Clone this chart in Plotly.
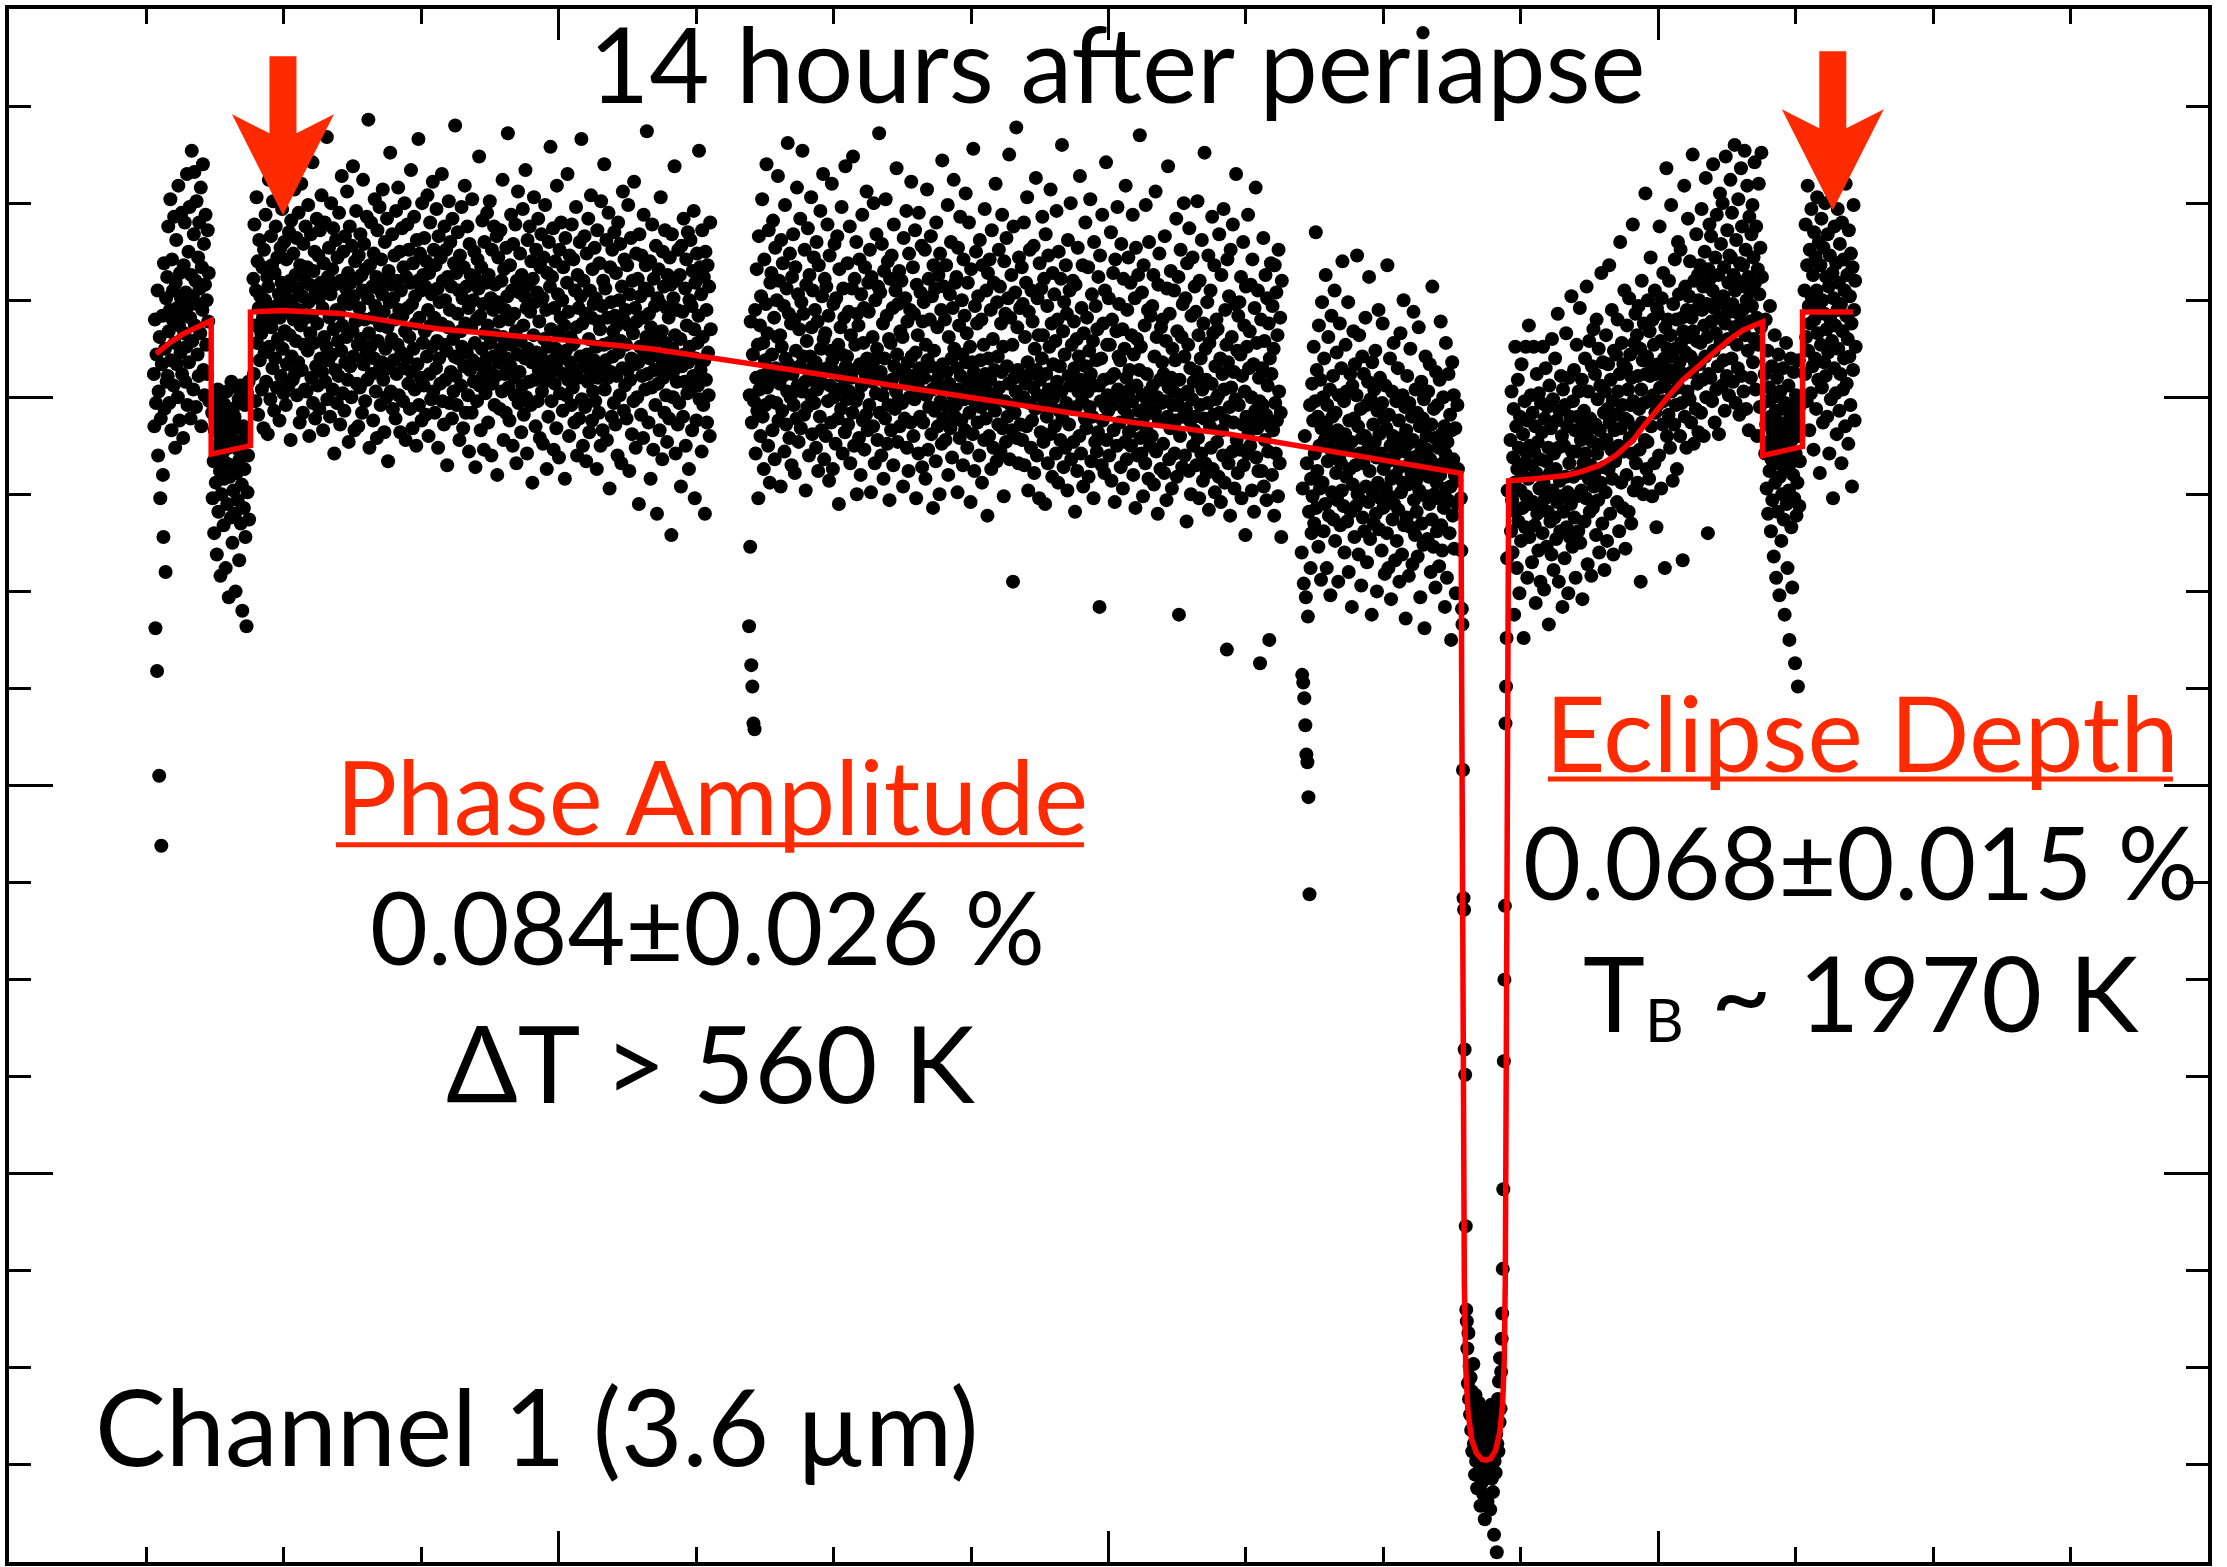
import numpy as np
import plotly.graph_objects as go

# ---------------- data (time in hours, flux in units of 1e-5, offset) ----------------
# time span (start, end) of each regularly sampled block
SPAN_A = (2.108, 2.915)
SPAN_B = (2.956, 3.494)
SPAN_C = (3.556, 10.212)
SPAN_D = (10.770, 18.522)
SPAN_E = (18.811, 21.085)
SPAN_T = (21.127, 21.809)
SPAN_F = (21.850, 25.509)
SPAN_G = (25.550, 26.067)
SPAN_H = (26.129, 26.873)

FLUX_A = [612, 585, 640, 481, 597, 622, 459, 655, 570, 603, 405, 631, 548, 589, 369, 617, 642, 560, 528, 669, 594, 625, 510, 651, 608,
          662, 611, 688, 634, 597, 645, 702, 619, 583, 671, 640, 655, 606, 693, 628, 574, 659, 681, 617, 646,
          600, 709, 637, 588, 664, 623, 651, 695, 612, 642, 579, 668, 633, 690, 608, 654, 626, 715, 596, 647,
          675, 618, 698, 641, 589, 663, 727, 629, 652, 604, 684, 716, 637, 660, 595, 701, 648, 622, 672, 611,
          690, 656, 633, 708, 585, 667, 645, 720, 614, 679, 601, 658, 694, 627, 650, 612, 686, 639, 664, 598]

FLUX_B = [592, 548, 598, 567, 530, 583, 589, 556, 598, 519, 575, 604, 541, 587, 601, 562, 508, 579, 550, 593,
          571, 597, 534, 558, 596, 585, 512, 566, 603, 545, 589, 574, 497, 594, 559, 581, 538, 608, 565, 525,
          594, 552, 578, 590, 540, 500, 586, 561, 605, 547, 573, 599, 516, 568, 606, 535, 584, 555, 490, 577,
          585, 543, 563, 596, 528, 580, 482, 602, 551, 570, 608, 537]

FLUX_C = [661, 612, 689, 637, 598, 655, 703, 628, 670, 591, 646, 681, 619, 652, 725, 633, 604, 667, 641, 584,
          676, 623, 650, 694, 608, 639, 662, 581, 657, 712, 626, 645, 599, 683, 636, 668, 615, 701, 642, 593,
          664, 620, 688, 647, 605, 672, 630, 719, 653, 588, 641, 677, 611, 659, 697, 625, 649, 602, 680, 634,
          655, 596, 671, 617, 738, 644, 606, 685, 632, 660, 578, 691, 621, 650, 609, 674, 640, 707, 612, 663,
          629, 682, 601, 656, 618, 695, 645, 587, 668, 637, 710, 614, 652, 592, 679, 627, 661, 604, 688, 641,
          603, 667, 624, 699, 649, 580, 658, 633, 684, 610, 642, 721, 597, 665, 628, 675, 589, 654, 616, 692,
          638, 606, 673, 651, 594, 686, 620, 659, 704, 613, 646, 583, 669, 631, 690, 608, 656, 626, 734, 599,
          662, 619, 677, 641, 590, 653, 700, 622, 666, 604, 687, 635, 571, 658, 614, 681, 645, 597, 672, 629,
          611, 695, 643, 586, 660, 624, 714, 637, 602, 675, 650, 593, 683, 618, 656, 631, 706, 609, 664, 577,
          648, 688, 616, 659, 600, 678, 634, 719, 621, 652, 583, 670, 639, 696, 607, 661, 627, 585, 673, 646,
          605, 684, 630, 663, 592, 655, 712, 617, 679, 640, 598, 666, 622, 693, 609, 651, 743, 633, 574, 668,
          626, 690, 612, 657, 641, 588, 674, 620, 702, 647, 603, 662, 579, 686, 629, 656, 614, 698, 637, 596,
          671, 618, 653, 707, 609, 644, 582, 680, 625, 661, 600, 692, 636, 567, 665, 615, 649, 726, 603, 658,
          630, 684, 594, 651, 619, 673, 640, 589, 696, 612, 660, 627, 708, 601, 645, 675, 582, 655, 623, 687,
          642, 598, 667, 615, 700, 634, 578, 662, 620, 689, 646, 607, 676, 631, 594, 659, 717, 613, 648, 584,
          669, 625, 693, 604, 652, 638, 575, 681, 617, 660, 733, 596, 641, 674, 610, 655, 588, 700, 628, 663,
          606, 682, 634, 657, 591, 670, 621, 704, 645, 580, 664, 612, 690, 637, 599, 653, 626, 711, 603, 676,
          641, 592, 668, 615, 697, 629, 656, 574, 683, 620, 649, 607, 672, 638, 715, 598, 660, 627, 586, 688,
          650, 609, 676, 624, 565, 662, 636, 701, 597, 645, 680, 613, 657, 589, 692, 630, 603, 669, 621, 740,
          611, 664, 596, 643, 685, 620, 655, 578, 673, 634, 606, 698, 626, 651, 584, 667, 616, 709, 638, 592,
          657, 623, 688, 601, 646, 572, 679, 614, 663, 636, 592, 702, 619, 650, 608, 675, 628, 564, 661, 640,
          598, 671, 617, 656, 724, 606, 642, 583, 667, 625, 691, 611, 648, 573, 680, 633, 602, 659, 620, 695,
          637, 587, 663, 614, 701, 628, 651, 570, 676, 607, 645, 621, 688, 596, 658, 632, 611, 683, 560, 649,
          672, 618, 639, 594, 686, 625, 660, 603, 712, 631, 578, 666, 612, 645, 592, 677, 620, 652, 736, 605,
          640, 588, 668, 616, 694, 627, 655, 575, 679, 610, 643, 601, 689, 634, 566, 660, 622, 706, 597, 654,
          613, 674, 629, 582, 663, 606, 697, 637, 591, 652, 620, 717, 600, 646, 571, 681, 625, 658, 608, 688,
          644, 596, 670, 618, 556, 661, 632, 703, 609, 649, 585, 676, 623, 654, 598, 692, 614, 639, 579, 667,
          621, 684, 603, 651, 576, 672, 630, 608, 699, 617, 645, 563, 664, 626, 590, 680, 611, 657, 729, 635,
          598, 662, 619, 687, 573, 646, 607, 670, 625, 584, 709, 614, 653, 633, 569, 676, 602, 641, 690, 620,
          650, 593, 667, 612, 637, 558, 682, 624, 601, 659, 715, 609, 644, 580, 673, 618, 631, 596, 689, 627,
          605, 671, 628, 587, 655, 614, 698, 636, 570, 663, 610, 646, 589, 680, 621, 652, 733, 599, 638, 575,
          660, 616, 683, 595, 643, 567, 674, 622, 608, 692, 630, 582, 655, 613, 704, 641, 588, 666, 603, 648,
          619, 677, 598, 651, 626, 563, 686, 610, 639, 592, 669, 635, 575, 701, 615, 647, 583, 660, 627, 720,
          604, 656, 619, 681, 578, 641, 610, 695, 628, 553, 667, 613, 649, 590, 676, 621, 634, 597, 685, 642,
          586, 664, 611, 637, 570, 690, 623, 650, 601, 679, 629, 566, 657, 615, 706, 640, 593, 671, 606, 645,
          627, 589, 668, 614, 699, 637, 562, 653, 609, 682, 620, 581, 660, 633, 598, 711, 617, 646, 574, 674,
          639, 600, 661, 618, 545, 684, 626, 652, 591, 673, 611, 641, 579, 694, 622, 656, 604, 668, 631, 737,
          612, 655, 587, 643, 620, 670, 558, 636, 605, 689, 626, 573, 661, 614, 647, 596, 678, 630, 540, 651,
          607, 666, 621, 583, 648, 703, 615, 634, 568, 675, 610, 657, 592, 686, 628, 601, 646, 577, 663, 619,
          641, 589, 672, 613, 658, 529, 684, 625, 600, 651, 614, 719, 632, 571, 660, 608, 645, 586, 676, 620,
          597, 663, 630, 554, 678, 616, 644, 590, 692, 622, 608, 656, 575, 671, 637, 602, 685, 618, 563, 650,
          626, 681, 604, 647, 583, 665, 611, 696, 635, 548, 659, 620, 588, 674, 628, 606, 642, 727, 599, 667,
          614, 653, 572, 686, 631, 596, 662, 619, 540, 675, 609, 645, 587, 668, 623, 601, 657, 580, 690, 635]

FLUX_D = [482, 601, 523, 639, 462, 587, 451, 622, 432, 598, 429, 645, 571, 610, 666, 593, 627, 548, 683, 604,
          637, 580, 652, 611, 702, 590, 628, 563, 671, 619, 596, 648, 720, 605, 633, 575, 686, 614, 556, 659,
          598, 664, 622, 583, 691, 609, 641, 568, 677, 615, 597, 650, 631, 714, 588, 660, 607, 632, 554, 681,
          626, 593, 669, 611, 647, 572, 699, 620, 586, 656, 603, 731, 617, 643, 579, 674, 600, 638, 565, 662,
          612, 684, 596, 640, 561, 667, 624, 589, 708, 606, 653, 577, 635, 616, 692, 584, 649, 603, 727, 621,
          643, 591, 676, 608, 552, 658, 629, 595, 687, 614, 570, 663, 621, 601, 703, 636, 581, 655, 609, 672,
          597, 645, 618, 574, 680, 604, 639, 562, 668, 612, 590, 696, 625, 583, 652, 607, 715, 630, 568, 661,
          633, 580, 657, 615, 689, 598, 642, 557, 673, 606, 624, 587, 710, 619, 563, 648, 600, 679, 613, 576,
          651, 604, 683, 589, 627, 545, 666, 611, 636, 594, 698, 622, 571, 656, 605, 641, 582, 719, 616, 599,
          621, 669, 586, 644, 603, 688, 566, 632, 610, 656, 592, 724, 614, 575, 661, 627, 598, 680, 550, 643,
          601, 637, 579, 671, 617, 560, 653, 606, 694, 588, 628, 646, 573, 667, 612, 591, 706, 620, 583, 659,
          644, 596, 676, 615, 551, 662, 608, 631, 585, 700, 619, 566, 650, 602, 684, 625, 578, 657, 610, 736,
          592, 654, 613, 570, 679, 601, 638, 558, 665, 620, 589, 702, 607, 642, 576, 670, 596, 630, 547, 661,
          628, 583, 673, 609, 646, 565, 689, 616, 594, 655, 603, 718, 622, 577, 648, 599, 665, 585, 634, 612,
          660, 597, 631, 554, 682, 614, 589, 651, 607, 696, 574, 639, 618, 562, 674, 600, 645, 587, 711, 621,
          611, 667, 580, 643, 599, 686, 623, 548, 658, 606, 632, 571, 695, 615, 590, 654, 603, 678, 564, 639,
          587, 649, 610, 676, 558, 627, 601, 707, 619, 573, 661, 595, 640, 616, 683, 581, 652, 604, 543, 668,
          624, 593, 656, 567, 690, 609, 636, 585, 663, 612, 550, 674, 598, 645, 576, 722, 617, 589, 657, 605,
          640, 578, 668, 613, 595, 699, 560, 631, 607, 653, 584, 680, 620, 569, 646, 601, 712, 625, 590, 659,
          596, 662, 615, 551, 677, 604, 637, 579, 693, 611, 588, 650, 622, 565, 671, 599, 642, 583, 705, 618,
          633, 574, 659, 608, 690, 592, 626, 546, 666, 603, 618, 581, 728, 613, 562, 647, 597, 675, 609, 638,
          587, 652, 606, 570, 681, 619, 595, 640, 556, 668, 601, 627, 578, 697, 612, 589, 655, 603, 539, 664,
          620, 580, 671, 609, 645, 563, 686, 596, 630, 574, 659, 614, 593, 710, 601, 567, 649, 621, 586, 676,
          605, 657, 572, 638, 613, 694, 584, 626, 549, 670, 598, 643, 577, 682, 616, 590, 651, 607, 725, 568,
          641, 596, 663, 583, 627, 505, 688, 610, 592, 654, 603, 739, 579, 636, 614, 566, 672, 599, 646, 586,
          611, 667, 578, 648, 600, 690, 565, 631, 607, 659, 585, 703, 618, 552, 644, 597, 676, 612, 574, 655,
          588, 639, 605, 678, 561, 625, 594, 713, 614, 570, 651, 601, 632, 548, 669, 609, 582, 656, 620, 693,
          632, 577, 661, 598, 545, 684, 612, 590, 647, 566, 673, 604, 626, 581, 707, 596, 638, 559, 664, 617,
          600, 653, 585, 629, 571, 696, 608, 640, 556, 675, 593, 616, 578, 661, 603, 730, 589, 634, 564, 649,
          622, 574, 668, 597, 643, 552, 681, 611, 586, 655, 606, 700, 568, 627, 594, 660, 577, 639, 615, 541,
          658, 595, 630, 562, 677, 603, 621, 580, 714, 609, 571, 646, 598, 668, 554, 633, 607, 589, 690, 616,
          584, 641, 603, 667, 559, 624, 595, 702, 612, 567, 653, 590, 629, 548, 680, 606, 577, 647, 619, 572,
          635, 582, 662, 606, 492, 673, 598, 620, 565, 694, 588, 638, 609, 561, 655, 595, 721, 578, 627, 601,
          593, 651, 570, 627, 610, 685, 557, 640, 596, 664, 583, 612, 546, 671, 601, 634, 575, 698, 604, 621,
          648, 587, 619, 564, 679, 600, 635, 553, 661, 594, 625, 577, 709, 610, 568, 645, 591, 672, 582, 614,
          604, 659, 575, 632, 598, 694, 560, 622, 586, 651, 543, 677, 606, 630, 570, 663, 593, 614, 735, 579,
          626, 571, 654, 601, 549, 668, 590, 637, 566, 699, 583, 612, 597, 645, 558, 680, 603, 575, 642, 592,
          580, 647, 606, 663, 555, 621, 593, 706, 572, 631, 600, 540, 658, 588, 674, 609, 563, 636, 597, 618,
          640, 576, 612, 561, 683, 598, 629, 547, 656, 590, 719, 605, 568, 643, 584, 665, 610, 553, 625, 596,
          603, 655, 571, 619, 588, 692, 559, 634, 596, 662, 488, 609, 580, 676, 601, 631, 564, 648, 590, 700,
          621, 570, 651, 594, 536, 669, 603, 627, 562, 687, 588, 615, 550, 642, 599, 672, 575, 608, 583, 657,
          590, 644, 565, 613, 701, 579, 632, 548, 660, 596, 620, 571, 681, 604, 557, 638, 589, 726, 566, 625,
          609, 561, 649, 597, 673, 542, 628, 585, 655, 574, 607, 693, 563, 633, 591, 668, 551, 616, 599, 640,
          577, 635, 601, 559, 684, 592, 620, 546, 663, 583, 612, 570, 697, 604, 556, 645, 588, 627, 470, 671,
          618, 566, 652, 595, 539, 676, 605, 631, 572, 689, 587, 613, 553, 648, 599, 715, 578, 624, 561, 642,
          596, 649, 573, 622, 662, 548, 611, 586, 680, 565, 637, 603, 529, 657, 590, 626, 571, 694, 582, 615,
          634, 575, 658, 600, 552, 671, 588, 617, 541, 646, 593, 708, 569, 628, 584, 655, 562, 610, 598, 463,
          587, 640, 562, 615, 596, 682, 554, 629, 578, 663, 591, 547, 651, 606, 572, 638, 475, 620, 585, 669,
          612, 560, 647, 583, 625, 539, 668, 597, 571, 654, 588, 632, 549, 676, 603, 566, 641, 592, 528, 660]

FLUX_E = [520, 457, 553, 453, 504, 445, 580, 431, 497, 416, 566, 412, 487, 394, 541, 344, 596, 512, 558, 530,
          607, 549, 588, 626, 535, 571, 598, 685, 543, 614, 562, 590, 523, 637, 575, 553, 609, 506, 584, 649,
          556, 600, 531, 620, 578, 545, 663, 587, 512, 596, 567, 631, 539, 582, 604, 498, 573, 642, 551, 590,
          611, 537, 579, 655, 526, 592, 561, 623, 547, 583, 505, 601, 570, 638, 534, 566, 615, 552, 670, 575,
          544, 598, 520, 581, 627, 559, 603, 536, 574, 649, 510, 588, 563, 612, 541, 577, 492, 606, 555, 634,
          589, 528, 617, 565, 544, 601, 673, 550, 585, 519, 632, 571, 547, 594, 503, 579, 621, 538, 566, 612,
          531, 580, 641, 554, 596, 515, 573, 608, 546, 662, 562, 527, 599, 575, 488, 618, 551, 586, 535, 604,
          577, 624, 540, 569, 500, 593, 556, 645, 532, 581, 610, 548, 571, 521, 597, 638, 543, 563, 589, 509,
          606, 553, 584, 530, 668, 567, 512, 591, 549, 620, 575, 496, 558, 603, 537, 580, 628, 545, 570, 516,
          560, 598, 526, 574, 615, 542, 588, 505, 564, 633, 551, 579, 519, 601, 556, 650, 534, 572, 595, 486,
          583, 538, 611, 555, 576, 508, 597, 566, 625, 533, 561, 590, 514, 578, 644, 547, 569, 529, 604, 557,
          541, 592, 518, 570, 636, 552, 585, 497, 575, 608, 535, 562, 589, 524, 599, 481, 567, 621, 549, 580,
          573, 527, 603, 559, 545, 617, 568, 510, 586, 537, 657, 564, 523, 594, 550, 579, 502, 613, 556, 531,
          596, 548, 574, 513, 609, 560, 639, 534, 581, 521, 566, 600, 543, 585, 492, 571, 628, 553, 507, 577,
          547, 612, 565, 530, 591, 554, 475, 583, 618, 539, 568, 601, 522, 560, 584, 499, 557, 545, 596, 563]

FLUX_T = [548, 521, 491, 483, 408, 342, 336, 264, 251, 173, 130, 124,
          110, 92, 118, 84, 101, 76, 95, 68, 88, 57, 79, 102, 61, 73, 45, 86, 52, 66, 38, 71,
          58, 82, 47, 63, 29, 55, 74, 41, 60, 35, 69, 50, 22, 57, 77, 44, 62, 31, 53, 70,
          48, 64, 27, 59, 81, 43, 56, 36, 68, 14, 52, 75, 46, 66, 5, 61, 84, 57, 93, 72,
          105, 79, 98, 115,
          128, 151, 192, 258, 300, 338, 432, 451, 476, 517, 552]

FLUX_F = [578, 531, 603, 547, 520, 569, 594, 488, 556, 626, 541, 585, 512, 563, 609, 536, 574, 499, 590, 552,
          526, 617, 560, 543, 581, 476, 566, 598, 533, 626, 549, 571, 507, 588, 558, 637, 528, 575, 545, 601,
          565, 515, 592, 546, 626, 572, 534, 585, 494, 561, 612, 540, 577, 521, 602, 553, 568, 505, 597, 544,
          582, 530, 626, 556, 501, 589, 548, 615, 567, 523, 595, 541, 574, 483, 606, 561, 536, 584, 519, 630,
          552, 599, 511, 571, 538, 620, 563, 527, 588, 546, 643, 574, 505, 593, 557, 531, 611, 549, 580, 492,
          604, 541, 575, 517, 596, 559, 633, 533, 585, 551, 499, 610, 566, 528, 590, 545, 652, 572, 523, 598,
          559, 614, 538, 583, 507, 572, 627, 549, 590, 531, 603, 561, 646, 525, 578, 552, 609, 496, 587, 566,
          593, 536, 620, 571, 548, 657, 582, 514, 603, 558, 629, 541, 589, 565, 508, 616, 577, 543, 635, 554,
          561, 612, 586, 529, 640, 571, 599, 547, 625, 520, 583, 606, 556, 664, 576, 535, 618, 564, 592, 511,
          603, 551, 632, 578, 526, 594, 617, 563, 668, 587, 540, 609, 573, 645, 558, 598, 519, 624, 583, 567,
          569, 622, 591, 546, 640, 603, 575, 531, 612, 680, 584, 556, 628, 596, 543, 617, 572, 655, 589, 522,
          615, 560, 637, 588, 604, 541, 651, 579, 622, 596, 535, 610, 571, 689, 598, 552, 628, 584, 643, 566,
          584, 632, 556, 611, 647, 594, 573, 625, 505, 604, 660, 587, 619, 550, 638, 597, 578, 705, 612, 563,
          621, 577, 650, 598, 558, 634, 611, 672, 585, 617, 549, 640, 601, 627, 566, 655, 592, 612, 533, 646,
          596, 643, 617, 570, 688, 605, 629, 553, 651, 612, 586, 664, 598, 620, 512, 636, 609, 718, 580, 625,
          640, 591, 660, 614, 574, 632, 699, 603, 621, 557, 648, 610, 586, 671, 625, 596, 640, 563, 614, 680,
          605, 653, 618, 580, 676, 628, 597, 641, 516, 634, 612, 709, 590, 657, 623, 574, 645, 603, 692, 631,
          652, 599, 670, 621, 587, 641, 613, 725, 634, 576, 660, 618, 645, 594, 684, 629, 607, 663, 582, 650,
          617, 668, 628, 592, 697, 645, 609, 657, 580, 637, 675, 621, 713, 600, 648, 631, 530, 666, 612, 689,
          661, 610, 683, 639, 598, 655, 720, 624, 646, 587, 672, 633, 604, 694, 650, 616, 663, 581, 641, 705,
          628, 679, 641, 606, 700, 652, 619, 667, 593, 638, 724, 647, 611, 686, 630, 659, 601, 673, 644, 712,
          672, 620, 695, 648, 608, 663, 636, 730, 655, 597, 681, 627, 660, 615, 702, 643, 591, 669, 638, 718,
          611, 688, 645, 668, 603, 657, 727, 632, 676, 594, 650, 709, 624, 662, 583, 693, 639, 655, 610, 684,
          647, 699, 618, 672, 630, 721, 659, 604, 688, 641, 580, 666, 627, 710, 653, 595, 677, 636, 726, 662]

FLUX_G = [612, 571, 640, 586, 553, 598, 624, 540, 577, 605, 562, 647, 590, 531, 568, 616, 547, 582, 600, 518,
          574, 632, 556, 593, 507, 579, 610, 541, 566, 622, 587, 498, 559, 603, 575, 526, 594, 550, 581, 615,
          537, 570, 488, 597, 563, 628, 545, 584, 512, 573, 606, 552, 475, 589, 566, 620, 533, 578, 502, 595,
          560, 613, 548, 585, 463, 571, 601, 539, 590, 556, 451, 580, 619, 544, 567, 596]

FLUX_H = [655, 612, 689, 631, 598, 668, 709, 624, 647, 583, 676, 638, 602, 697, 651, 616, 663, 573, 685, 640,
          620, 672, 594, 655, 703, 633, 609, 680, 646, 561, 668, 627, 692, 605, 650, 587, 677, 618, 643, 700,
          611, 662, 635, 590, 684, 623, 657, 571, 673, 640, 599, 706, 629, 664, 548, 651, 615, 688, 637, 602,
          669, 581, 645, 697, 625, 659, 593, 679, 612, 648, 566, 690, 634, 604, 671, 620, 655, 585, 710, 642,
          607, 663, 630, 576, 686, 621, 652, 596, 674, 638, 554, 667, 614, 699, 645, 588, 660, 626]

# best-fit model light curve
MODEL_T = [2.14, 2.33, 2.52, 2.72, 2.942, 2.942, 3.514, 3.514, 3.990, 4.817, 6.264, 8.124, 9.364, 11.018,
           12.672, 14.326, 16.393, 17.757, 19.494, 21.129, 21.137, 21.147, 21.162, 21.178, 21.199, 21.230,
           21.282, 21.354, 21.437, 21.499, 21.561, 21.633, 21.695, 21.736, 21.759, 21.774, 21.788, 21.798,
           21.809, 21.823, 22.171, 22.657, 22.905, 23.142, 23.380, 23.628, 23.793, 23.969, 24.145, 24.351,
           24.599, 24.847, 25.033, 25.228, 25.364, 25.519, 25.519, 26.100, 26.100, 26.832]
MODEL_F = [622.4, 627.9, 632.4, 636.1, 639.5, 570.7, 575.1, 643.9, 644.7, 643.2, 635.1, 629.3, 624.9, 616.1,
           607.3, 598.2, 586.8, 581.0, 570.7, 560.8, 473.4, 363.6, 253.8, 144.0, 100.1, 78.1,
           63.4, 56.1, 52.8, 52.5, 53.2, 57.6, 67.1, 81.8, 103.7, 144.0, 253.8, 363.6,
           473.4, 557.0, 557.9, 559.7, 561.9, 564.9, 570.0, 577.7, 585.4, 593.1, 600.4, 608.6,
           616.8, 624.1, 629.6, 634.4, 636.6, 638.8, 570.0, 574.6, 643.9, 643.9]

# arrow markers (tip positions, data coordinates)
ARROW_T = [3.987, 26.54]
ARROW_F = [693.7, 696.3]

X_RANGE = [0, 32]
Y_RANGE = [0, 800]

# ---------------- build figure ----------------
blocks = [(SPAN_A, FLUX_A), (SPAN_B, FLUX_B), (SPAN_C, FLUX_C), (SPAN_D, FLUX_D), (SPAN_E, FLUX_E),
          (SPAN_T, FLUX_T), (SPAN_F, FLUX_F), (SPAN_G, FLUX_G), (SPAN_H, FLUX_H)]
xs, ys = [], []
for span, flux in blocks:
    xs.append(np.linspace(span[0], span[1], len(flux)))
    ys.append(np.asarray(flux, dtype=float))
xs = np.concatenate(xs)
ys = np.concatenate(ys)

RED = '#FF0000'
ORANGE_RED = '#FF2A00'
FONT = 'Lato, Gill Sans, sans-serif'

fig = go.Figure()
fig.add_trace(go.Scatter(x=xs, y=ys, mode='markers',
                         marker=dict(color='black', size=14, line=dict(width=0)),
                         hoverinfo='skip', showlegend=False))
fig.add_trace(go.Scatter(x=MODEL_T, y=MODEL_F, mode='lines',
                         line=dict(color=RED, width=5.5), hoverinfo='skip', showlegend=False))

arrow_path = "M 0 0 L -51 101 L -13.5 82 L -13.5 159 L 13.5 159 L 13.5 82 L 51 101 Z"
shapes = []
for tx, ty in zip(ARROW_T, ARROW_F):
    shapes.append(dict(type='path', xref='x', yref='y', xsizemode='pixel', ysizemode='pixel',
                       xanchor=tx, yanchor=ty, path=arrow_path,
                       fillcolor=ORANGE_RED, line=dict(width=0), layer='above'))
# underlines of the red headings
shapes.append(dict(type='line', xref='x', yref='y', x0=4.758, x1=15.643, y0=369.5, y1=369.5,
                   line=dict(color=ORANGE_RED, width=5), layer='above'))
shapes.append(dict(type='line', xref='x', yref='y', x0=22.395, x1=31.49, y0=403.4, y1=403.4,
                   line=dict(color=ORANGE_RED, width=5), layer='above'))

def ann(text, x, y, color='black', size=105):
    return dict(text=text, x=x, y=y, xref='x', yref='y', xanchor='center', yanchor='middle',
                showarrow=False, font=dict(family=FONT, size=size, color=color))

annotations = [
    ann('14 hours after periapse', 16.12, 772.5, size=104),
    ann('Phase Amplitude', 10.23, 394.7, ORANGE_RED, size=102),
    ann('0.084±0.026 %', 10.17, 327.6, size=100),
    ann('ΔT > 560 K', 10.22, 257.7, size=106),
    ann('Eclipse Depth', 26.96, 428.3, ORANGE_RED, size=105),
    ann('0.068±0.015 %', 26.94, 361.3, size=100),
    ann("T<span style='font-size:60px;baseline-shift:-10px'>B</span> ~ 1970 K", 26.95, 293.9, size=105),
    ann('Channel 1 (3.6 µm)', 7.68, 70.7, size=106),
]

axis_common = dict(showticklabels=False, ticks='inside', showline=True, linecolor='black',
                   linewidth=3.5, mirror='ticks', showgrid=False, zeroline=False, tickcolor='black',
                   tickwidth=3)
fig.update_layout(
    width=2227, height=1567,
    margin=dict(l=9, r=19, t=5, b=5),
    paper_bgcolor='white', plot_bgcolor='white',
    showlegend=False,
    xaxis=dict(range=X_RANGE, tick0=0, dtick=8, ticklen=31,
               minor=dict(dtick=2, ticklen=15, ticks='inside', tickwidth=3, tickcolor='black', showgrid=False),
               **axis_common),
    yaxis=dict(range=Y_RANGE, tick0=0, dtick=200, ticklen=44,
               minor=dict(dtick=50, ticklen=22, ticks='inside', tickwidth=3, tickcolor='black', showgrid=False),
               **axis_common),
    shapes=shapes,
    annotations=annotations,
)

fig.write_html("out.html")
